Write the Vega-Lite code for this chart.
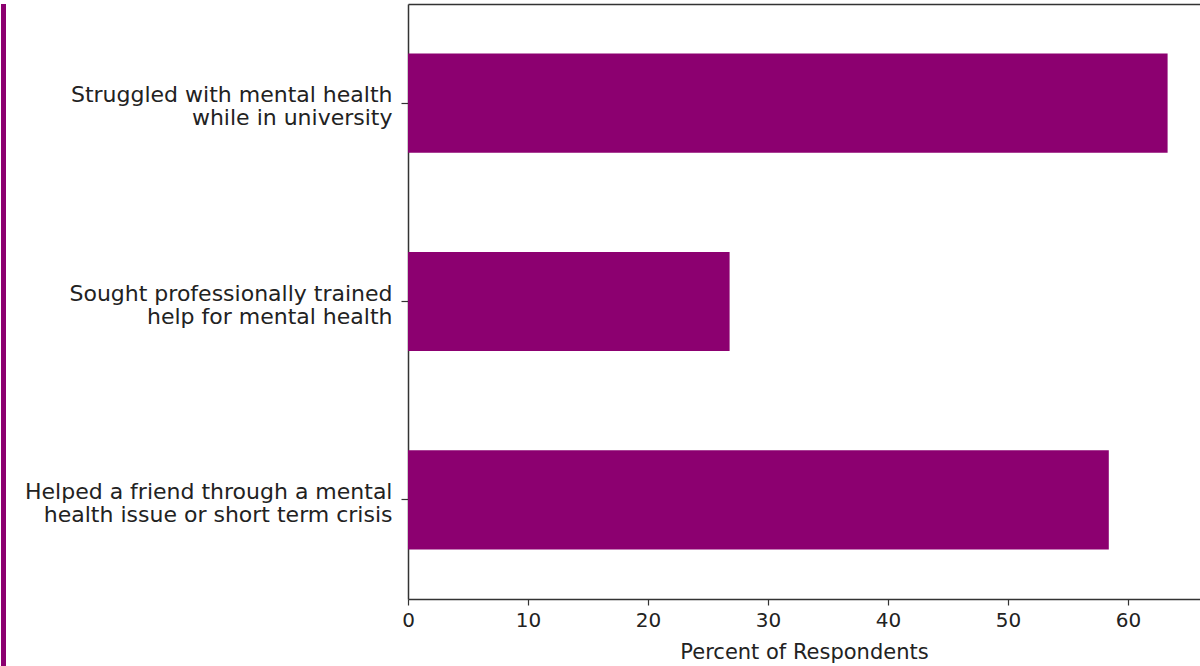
{
  "$schema": "https://vega.github.io/schema/vega-lite/v6.json",
  "padding": 0,
  "background": "white",
  "spacing": 0,
  "data": {
    "values": [
      {"item": "Struggled with mental health\u00a0\nwhile in university", "percent": 63.3},
      {"item": "Sought professionally trained\u00a0\nhelp for mental health", "percent": 26.8},
      {"item": "Helped a friend through a mental\nhealth issue or short term crisis", "percent": 58.4}
    ]
  },
  "config": {
    "font": "DejaVu Sans",
    "axis": {"grid": false, "domainColor": "#333333", "tickColor": "#333333", "labelColor": "#222222", "titleColor": "#222222", "labelFont": "DejaVu Sans", "titleFont": "DejaVu Sans", "titleFontWeight": "normal"}
  },
  "hconcat": [
    {
      "width": 5,
      "height": 666,
      "view": {"fill": "#8C0070", "stroke": null},
      "mark": {"type": "point", "opacity": 0},
      "encoding": {}
    },
    {
      "width": 792,
      "height": 595,
      "view": {"stroke": null},
      "resolve": {"axis": {"x": "independent"}},
      "layer": [
        {
          "mark": {"type": "bar", "color": "#8C0070"},
          "encoding": {
            "y": {
              "field": "item",
              "type": "nominal",
              "sort": null,
              "scale": {"paddingInner": 0.5, "paddingOuter": 0.25},
              "axis": {
                "title": null,
                "labelExpr": "split(datum.value, '\\n')",
                "labelFontSize": 22,
                "labelLineHeight": 23,
                "labelLimit": 0,
                "labelPadding": 9,
                "labelOffset": -8,
                "tickSize": 7,
                "domainWidth": 1.5,
                "tickWidth": 1.2,
                "minExtent": 401,
                "maxExtent": 401
              }
            },
            "x": {
              "field": "percent",
              "type": "quantitative",
              "scale": {"domain": [0, 66], "nice": false},
              "axis": {
                "orient": "bottom",
                "title": "Percent of Respondents",
                "values": [0, 10, 20, 30, 40, 50, 60],
                "labelFontSize": 20,
                "titleFontSize": 21,
                "labelPadding": 5,
                "tickSize": 6,
                "titlePadding": 11,
                "domainWidth": 1.5,
                "tickWidth": 1.2,
                "labelFlush": false
              }
            }
          }
        },
        {
          "mark": {"type": "bar", "opacity": 0},
          "encoding": {
            "y": {"field": "item", "type": "nominal", "sort": null},
            "x": {
              "field": "percent",
              "type": "quantitative",
              "axis": {
                "orient": "top",
                "title": null,
                "labels": false,
                "ticks": false,
                "domain": true,
                "domainWidth": 1.5,
                "minExtent": 4,
                "maxExtent": 4
              }
            }
          }
        }
      ]
    }
  ]
}
